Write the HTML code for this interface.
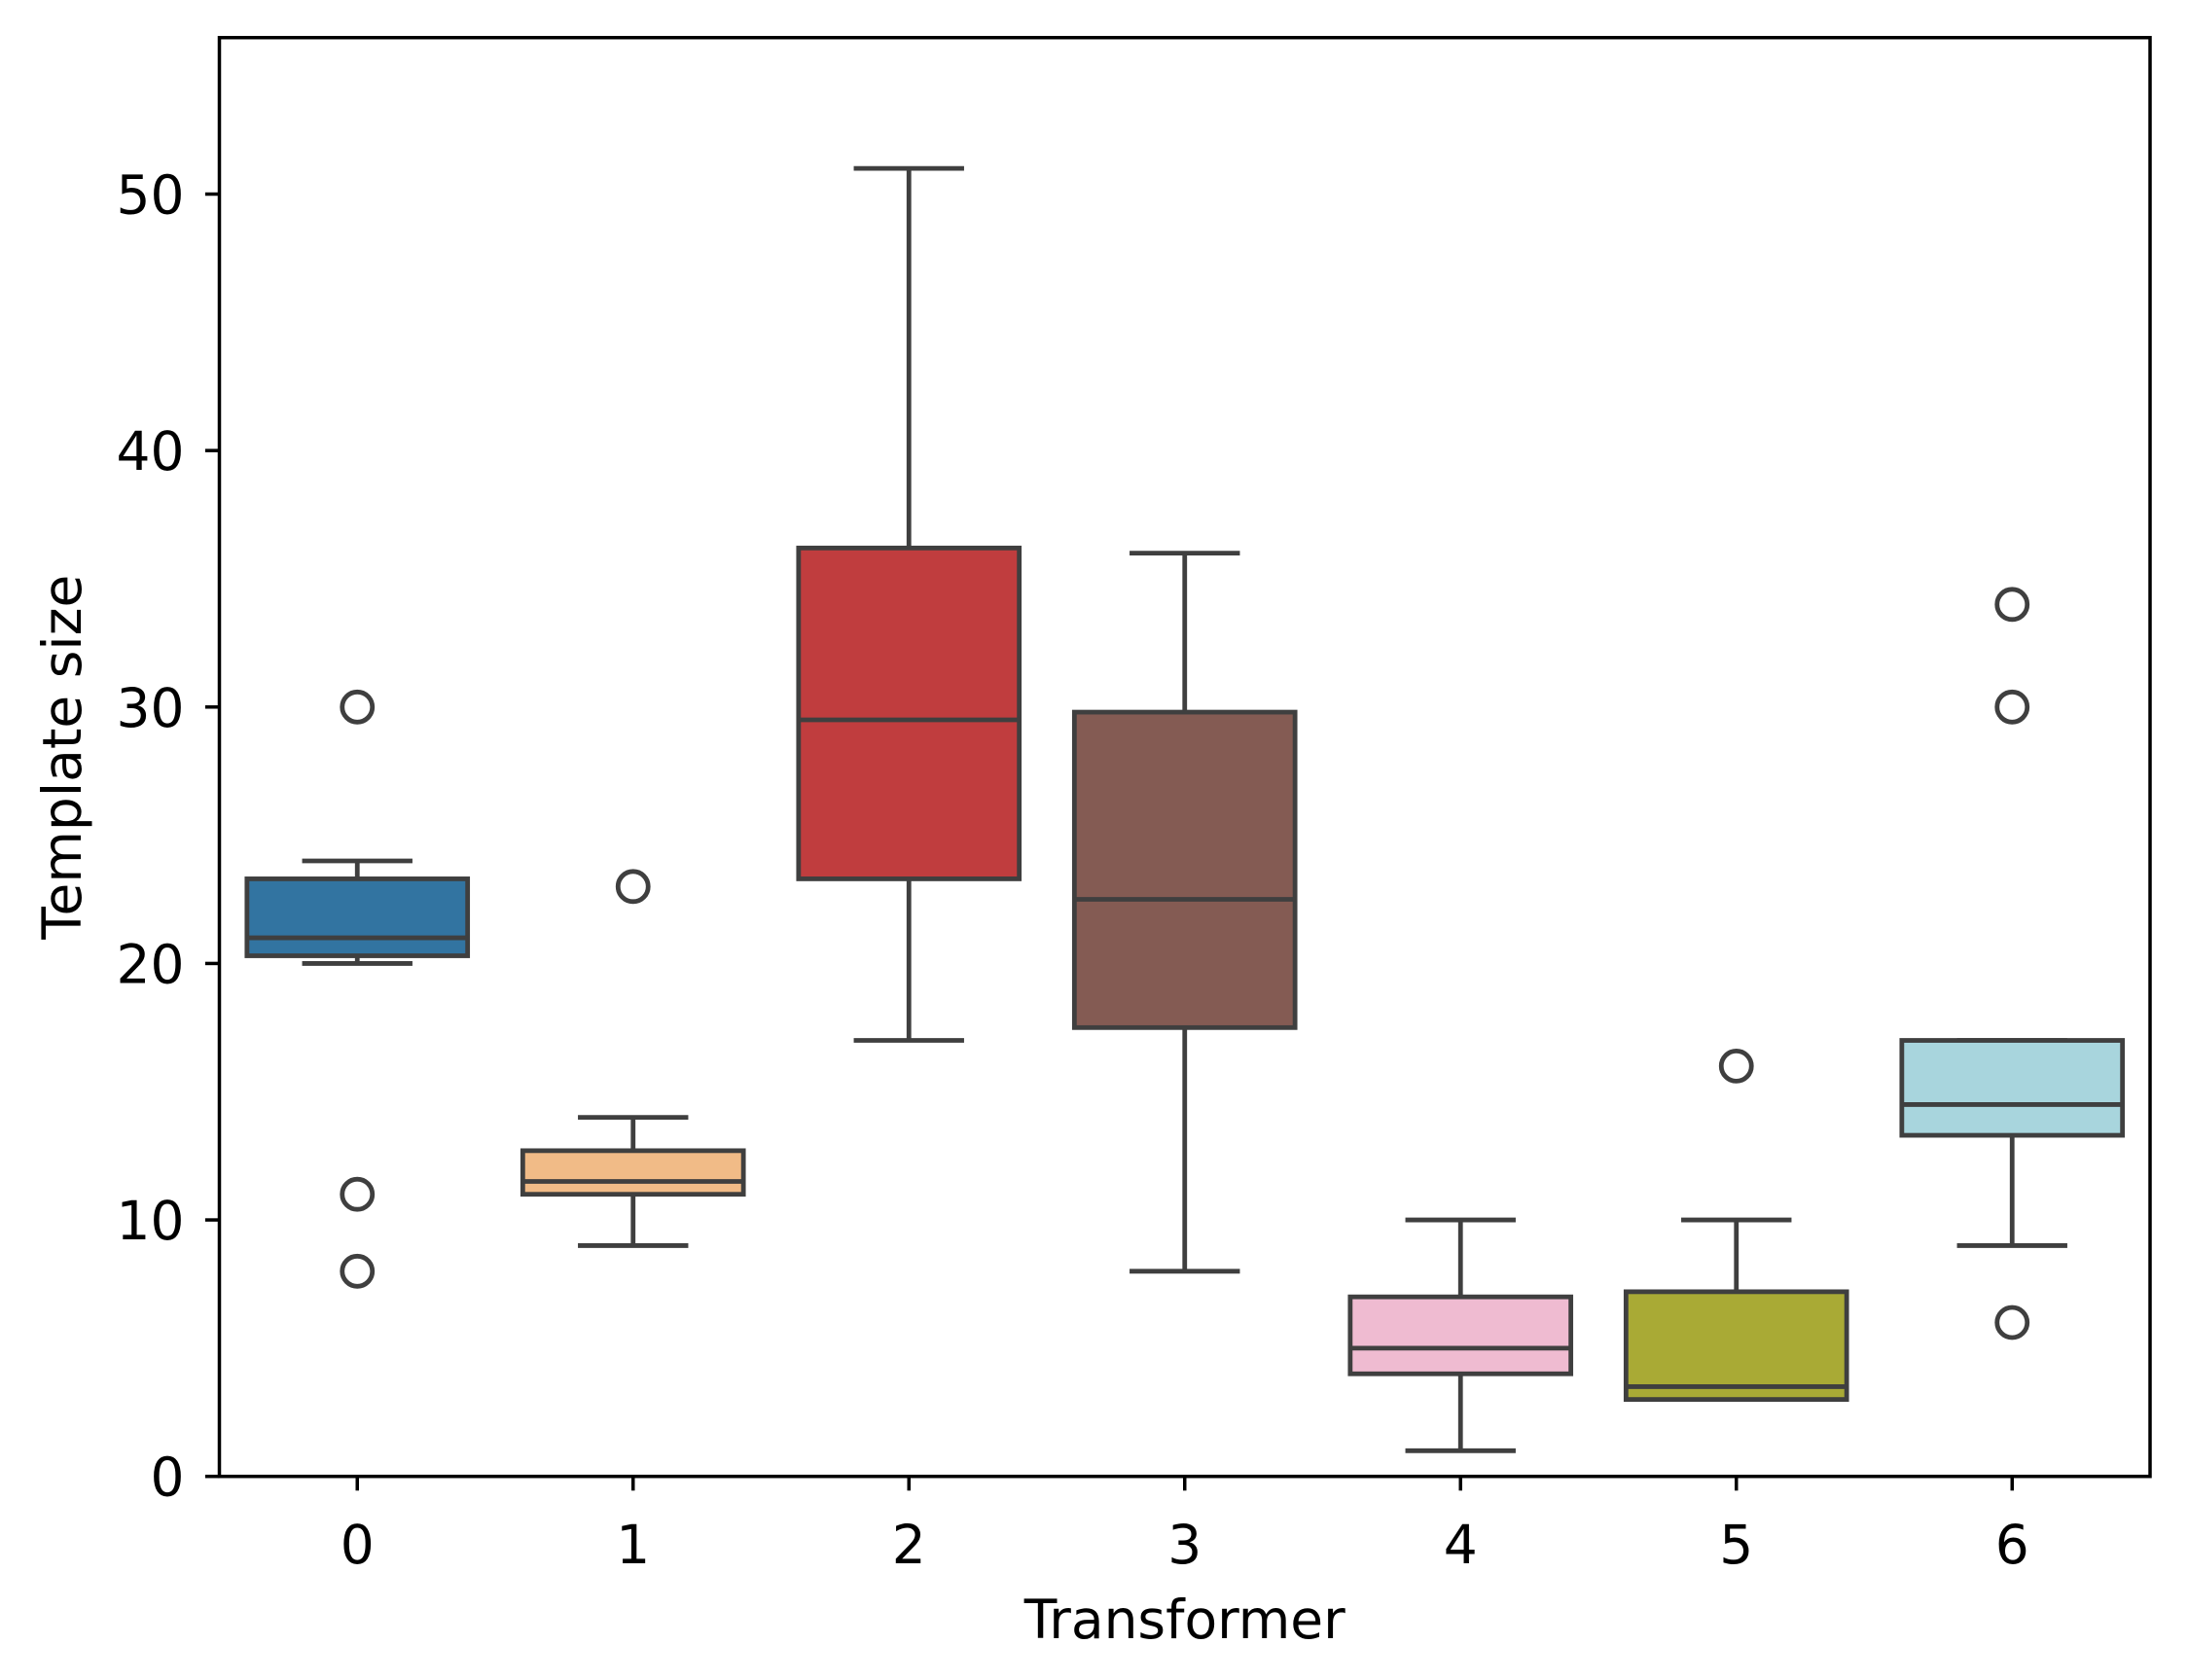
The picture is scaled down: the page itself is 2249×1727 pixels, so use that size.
<!DOCTYPE html>
<html><head><meta charset="utf-8"><style>
html,body{margin:0;padding:0;background:#fff}
svg{display:block;font-family:"DejaVu Sans","Liberation Sans",sans-serif}
</style></head><body>
<svg id="chart" width="2249" height="1727" viewBox="0 0 2249 1727" xmlns="http://www.w3.org/2000/svg">
<rect width="2249" height="1727" fill="#fff"/>
<g id="boxes"></g>
<g id="axes"></g>
</svg>
<script>
const categories = ["0","1","2","3","4","5","6"];
const whiskerLow = [20, 9, 17, 8, 1, 3, 9];
const q1 = [20.3, 11, 23.3, 17.5, 4, 3, 13.3];
const median = [21, 11.5, 29.5, 22.5, 5, 3.5, 14.5];
const q3 = [23.3, 12.7, 36.2, 29.8, 7, 7.2, 17];
const whiskerHigh = [24, 14, 51, 36, 10, 10, 17];
const fliers = [[30, 11, 8], [23], [], [], [], [16], [34, 30, 6]];
const colors = ["#3274a1", "#f1bb87", "#c03d3e", "#845b53", "#efbbd1", "#a9aa35", "#a8d5dd"];
const yTicks = [0, 10, 20, 30, 40, 50];

const L = 225.5, R = 2210, T = 38.7, B = 1517.7;
const xMin = -0.5, xMax = 6.5, yMin = 0, yMax = 56.1;
const xs = v => L + (v - xMin) / (xMax - xMin) * (R - L);
const ys = v => B - (v - yMin) / (yMax - yMin) * (B - T);
const NS = "http://www.w3.org/2000/svg";
function mk(tag, attrs, parent) {
  const e = document.createElementNS(NS, tag);
  for (const k in attrs) e.setAttribute(k, attrs[k]);
  parent.appendChild(e);
  return e;
}
const gb = document.getElementById('boxes');
const ga = document.getElementById('axes');
const lc = "#3f3f3f", lw = 4.8;
const bw = 0.8, cw = 0.4;
const FS = 55;
categories.forEach((c, i) => {
  const g = mk('g', {}, gb);
  
  
  const cx = xs(i);
  const w1 = mk('line', {x1: cx, x2: cx, y1: ys(q1[i]), y2: ys(whiskerLow[i]), stroke: lc, 'stroke-width': lw}, g);
  
  
  const w2 = mk('line', {x1: cx, x2: cx, y1: ys(q3[i]), y2: ys(whiskerHigh[i]), stroke: lc, 'stroke-width': lw}, g);
  
  
  const c1 = mk('line', {x1: xs(i - cw / 2), x2: xs(i + cw / 2), y1: ys(whiskerLow[i]), y2: ys(whiskerLow[i]), stroke: lc, 'stroke-width': lw}, g);
  
  
  const c2 = mk('line', {x1: xs(i - cw / 2), x2: xs(i + cw / 2), y1: ys(whiskerHigh[i]), y2: ys(whiskerHigh[i]), stroke: lc, 'stroke-width': lw}, g);
  
  
  const bx = mk('rect', {x: xs(i - bw / 2), y: ys(q3[i]), width: xs(i + bw / 2) - xs(i - bw / 2), height: ys(q1[i]) - ys(q3[i]), fill: colors[i], stroke: lc, 'stroke-width': lw}, g);
  
  
  const md = mk('line', {x1: xs(i - bw / 2), x2: xs(i + bw / 2), y1: ys(median[i]), y2: ys(median[i]), stroke: lc, 'stroke-width': lw}, g);
  
  
  fliers[i].forEach(v => {
    const f = mk('circle', {cx: cx, cy: ys(v), r: 15.5, fill: 'none', stroke: lc, 'stroke-width': lw}, g);
    
    
  });
});
const frame = mk('rect', {x: L, y: T, width: R - L, height: B - T, fill: 'none', stroke: '#000', 'stroke-width': 3.5}, ga);


yTicks.forEach(v => {
  const t = mk('line', {x1: L - 14.6, x2: L, y1: ys(v), y2: ys(v), stroke: '#000', 'stroke-width': 3.5}, ga);
  
  
  const tx = mk('text', {x: L - 36, y: ys(v) + 20, 'text-anchor': 'end', 'font-size': FS, fill: '#000'}, ga);
  tx.textContent = v;
  
  
});
categories.forEach((c, i) => {
  const t = mk('line', {x1: xs(i), x2: xs(i), y1: B, y2: B + 14.6, stroke: '#000', 'stroke-width': 3.5}, ga);
  
  
  const tx = mk('text', {x: xs(i), y: 1607, 'text-anchor': 'middle', 'font-size': FS, fill: '#000'}, ga);
  tx.textContent = c;
  
  
});
const xt = mk('text', {x: (L + R) / 2, y: 1684, 'text-anchor': 'middle', 'font-size': FS, fill: '#000'}, ga);
xt.textContent = 'Transformer';


const yt = mk('text', {x: 0, y: 0, 'text-anchor': 'middle', 'font-size': FS, fill: '#000', transform: 'translate(83,' + ((T + B) / 2) + ') rotate(-90)'}, ga);
yt.textContent = 'Template size';


</script>
</body></html>
